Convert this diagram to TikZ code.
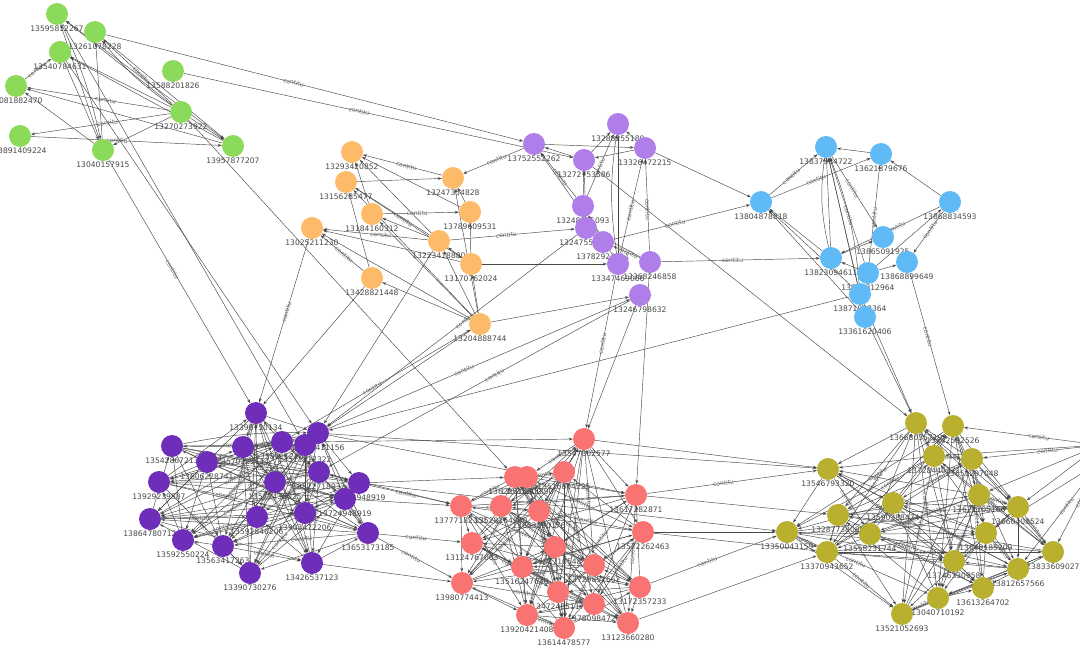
\documentclass[tikz,border=0pt]{standalone}
\usepackage{fontspec}
\setmainfont{DejaVu Sans}
\usetikzlibrary{arrows.meta}
\pgfdeclarelayer{bg}
\pgfsetlayers{bg,main}
\definecolor{cg}{RGB}{140,218,90}
\definecolor{co}{RGB}{253,187,105}
\definecolor{cp}{RGB}{176,126,232}
\definecolor{cb}{RGB}{96,186,246}
\definecolor{cd}{RGB}{110,46,186}
\definecolor{cr}{RGB}{250,115,115}
\definecolor{cy}{RGB}{184,176,46}
\tikzset{
  vtx/.style={circle,minimum size=22pt,inner sep=0pt,draw=none},
  nlab/.style={font=\fontsize{7.6}{8}\selectfont,text=black!72,inner sep=0.8pt},
  ed/.style={draw=black!72,line width=0.45pt,-{Stealth[length=4pt,width=2.8pt]}},
  elab/.style={font=\fontsize{6}{6}\selectfont,text=black!58,sloped,inner sep=0.5pt,pos=0.45},
}
\newcommand\mkv[5]{\node[vtx,fill=#4,label={[nlab]below:#5}] (#1) at (#2,#3) {};}
\newcommand\densecl[2]{%
  \foreach \i in {1,...,#2}{%
    \foreach \j in {1,...,#2}{%
      \ifnum\j>\i
        \pgfmathtruncatemacro\k{mod(\i*7+\j*11,5)}%
        \pgfmathtruncatemacro\q{mod(\i+\j,2)}%
        \ifnum\k=0
          \draw[ed] (#1\i) -- node[elab]{contitu} (#1\j);
        \else
          \ifnum\k<3
            \ifnum\q=0 \draw[ed] (#1\i) -- (#1\j); \else \draw[ed] (#1\j) -- (#1\i); \fi
          \fi
        \fi
      \fi
    }}}
\begin{document}
\begin{tikzpicture}[x=1pt,y=-1pt]
\useasboundingbox (0,0) rectangle (1080,648);
% green
\mkv{g1}{57}{14}{cg}{13595812267}
\mkv{g2}{95}{32}{cg}{13261078228}
\mkv{g3}{60}{52}{cg}{13540784631}
\mkv{g4}{16}{86}{cg}{13081882470}
\mkv{g5}{173}{71}{cg}{13588201826}
\mkv{g6}{181}{112}{cg}{13270273922}
\mkv{g7}{20}{136}{cg}{13891409224}
\mkv{g8}{103}{150}{cg}{13040157915}
\mkv{g9}{233}{146}{cg}{13957877207}
% orange
\mkv{o1}{352}{152}{co}{13293420852}
\mkv{o2}{453}{178}{co}{13247354828}
\mkv{o3}{346}{182}{co}{13156285477}
\mkv{o4}{470}{212}{co}{13789609531}
\mkv{o5}{372}{214}{co}{13184160312}
\mkv{o6}{312}{228}{co}{13025211230}
\mkv{o7}{439}{241}{co}{13223418880}
\mkv{o8}{471}{264}{co}{13170762024}
\mkv{o9}{372}{278}{co}{13428821448}
\mkv{o10}{480}{324}{co}{13204888744}
% light purple
\mkv{p1}{618}{124}{cp}{13288255180}
\mkv{p2}{534}{144}{cp}{13752552262}
\mkv{p3}{584}{160}{cp}{13272753586}
\mkv{p4}{645}{148}{cp}{13326472215}
\mkv{p5}{583}{206}{cp}{13248575093}
\mkv{p6}{586}{228}{cp}{13247553704}
\mkv{p7}{603}{242}{cp}{13782924211}
\mkv{p8}{618}{264}{cp}{13347469066}
\mkv{p9}{650}{262}{cp}{13368246858}
\mkv{p10}{640}{295}{cp}{13246798632}
% blue
\mkv{b1}{826}{147}{cb}{13837334722}
\mkv{b2}{881}{154}{cb}{13621879676}
\mkv{b3}{761}{202}{cb}{13804878818}
\mkv{b4}{950}{202}{cb}{13868834593}
\mkv{b5}{883}{237}{cb}{13865091925}
\mkv{b6}{831}{258}{cb}{13823094611}
\mkv{b7}{907}{262}{cb}{13868899649}
\mkv{b8}{868}{273}{cb}{13876312964}
\mkv{b9}{860}{294}{cb}{13871988364}
\mkv{b10}{865}{317}{cb}{13361620406}
% dark purple
\mkv{d1}{256}{413}{cd}{13398730134}
\mkv{d2}{172}{446}{cd}{13542867213}
\mkv{d3}{243}{447}{cd}{13570283114}
\mkv{d4}{282}{442}{cd}{13589112205}
\mkv{d5}{318}{433}{cd}{13628411156}
\mkv{d6}{305}{445}{cd}{13511217322}
\mkv{d7}{207}{462}{cd}{13606228741}
\mkv{d8}{319}{472}{cd}{13522718932}
\mkv{d9}{275}{482}{cd}{13577436025}
\mkv{d10}{159}{482}{cd}{13929239587}
\mkv{d11}{359}{483}{cd}{13573948919}
\mkv{d12}{345}{499}{cd}{13724948919}
\mkv{d13}{150}{519}{cd}{13864780712}
\mkv{d14}{257}{517}{cd}{13592846206}
\mkv{d15}{305}{513}{cd}{13903472206}
\mkv{d16}{368}{533}{cd}{13653173185}
\mkv{d17}{183}{540}{cd}{13592550224}
\mkv{d18}{223}{546}{cd}{13563417263}
\mkv{d19}{312}{563}{cd}{13426537123}
\mkv{d20}{250}{573}{cd}{13390730276}
% red
\mkv{r1}{584}{439}{cr}{13547302577}
\mkv{r2}{515}{477}{cr}{13622518800}
\mkv{r3}{527}{477}{cr}{13620143390}
\mkv{r4}{564}{472}{cr}{13516804225}
\mkv{r5}{636}{495}{cr}{13617282871}
\mkv{r6}{461}{506}{cr}{13777182351}
\mkv{r7}{501}{506}{cr}{13528164940}
\mkv{r8}{539}{511}{cr}{13653290176}
\mkv{r9}{643}{532}{cr}{13572262463}
\mkv{r10}{472}{543}{cr}{13124767003}
\mkv{r11}{555}{547}{cr}{13682710548}
\mkv{r12}{522}{567}{cr}{13516247630}
\mkv{r13}{594}{565}{cr}{13729851662}
\mkv{r14}{462}{583}{cr}{13980774413}
\mkv{r15}{558}{592}{cr}{13472485117}
\mkv{r16}{640}{587}{cr}{13172357233}
\mkv{r17}{594}{604}{cr}{13780984726}
\mkv{r18}{527}{615}{cr}{13920421408}
\mkv{r19}{564}{628}{cr}{13614478577}
\mkv{r20}{628}{623}{cr}{13123660280}
% olive
\mkv{y1}{916}{423}{cy}{13668035719}
\mkv{y2}{953}{426}{cy}{13642582526}
\mkv{y3}{934}{456}{cy}{13728440371}
\mkv{y4}{972}{459}{cy}{13651297048}
\mkv{y5}{828}{469}{cy}{13546793320}
\mkv{y6}{979}{495}{cy}{13622705166}
\mkv{y7}{893}{503}{cy}{13590388474}
\mkv{y8}{1018}{507}{cy}{13660408524}
\mkv{y9}{838}{515}{cy}{13287738086}
\mkv{y10}{870}{534}{cy}{13558231744}
\mkv{y11}{787}{532}{cy}{13350043159}
\mkv{y12}{986}{533}{cy}{13649185209}
\mkv{y13}{827}{552}{cy}{13370943652}
\mkv{y14}{1053}{552}{cy}{13833609027}
\mkv{y15}{954}{561}{cy}{13746330958}
\mkv{y16}{1018}{569}{cy}{13812657566}
\mkv{y17}{983}{588}{cy}{13613264702}
\mkv{y18}{938}{598}{cy}{13040710192}
\mkv{y19}{902}{614}{cy}{13521052693}
\coordinate (ex1) at (1100,445);
\coordinate (ex2) at (1100,462);
\begin{pgfonlayer}{bg}
% dense clusters
\densecl{d}{20}
\densecl{r}{20}
\densecl{y}{19}
% plain edges
\foreach \a/\b in {g8/g1,g6/g1,g3/g8,g6/g3,g9/g1,g2/g9,g9/g4,g6/g8,g9/g3,g8/g2,g8/g4,g6/g9,
  o4/o1,o7/o1,o7/o3,o9/o3,o3/o2,o7/o5,o8/o6,o10/o6,o4/o2,o10/o2,o8/o4,o10/o8,o10/o7,o10/o5,o10/o9,o8/o7,o10/o3,o5/o1,
  p3/p2,p7/p2,p3/p1,p8/p1,p5/p3,p4/p3,p7/p5,p9/p6,p6/p7,p4/p1,p2/p4,p8/p5,p6/p3,
  b6/b1,b9/b1,b4/b2,b6/b3,b9/b3,b10/b3,b8/b4,b6/b5,b8/b6,b8/b7,b2/b1,b10/b1,
  g3/d5,g6/r2,g1/d6,o9/d1,o7/d5,o10/d5,o8/p8,o10/p10,p4/b3,p3/y1,p10/r1,p9/r5,
  b9/y1,b10/y1,b9/d5,d5/y5,d8/r6,d11/r2,d19/r14,d12/r6,d11/y11,d4/r1,d5/r5,
  r9/y11,r9/y13,r20/y13,r5/y9,r1/y5,ex1/y3,ex1/y8,ex2/y12,ex1/y6}
  \draw[ed] (\a) -- (\b);
% labelled edges
\foreach \a/\b in {g6/g2,g4/g3,g6/g4,g6/g7,g7/g9,
  o2/o1,o5/o4,o7/o6,o9/o6,o3/o8,
  p5/p2,p5/p1,p8/p4,p9/p4,p9/p7,
  b3/b1,b3/b2,b8/b1,b4/b6,b4/b7,b8/b2,b1/b5,
  g2/p2,g5/p3,g8/d1,o6/d1,d4/o10,o7/p6,p2/o2,d5/p10,p7/b3,p9/b6,p8/r1,p6/d5,p10/d8,b7/y2,
  d11/r6,d16/r14,d16/r10,r5/y5,r16/y11,ex1/y2,ex1/y4,ex2/y14,ex2/y16}
  \draw[ed] (\a) -- node[elab]{contitu} (\b);
% a few doubled, bent edges
\draw[ed] (g6) to[bend left=8] (g2);
\draw[ed] (b6) to[bend left=10] (b1);
\draw[ed] (b9) to[bend right=8] (b1);
\draw[ed] (g1) to[bend left=6] (g8);
\draw[ed] (p8) to[bend left=8] (p1);
\draw[ed] (d2) to[bend left=6] (d5);
\draw[ed] (r1) to[bend right=6] (r12);
\end{pgfonlayer}
\end{tikzpicture}
\end{document}
